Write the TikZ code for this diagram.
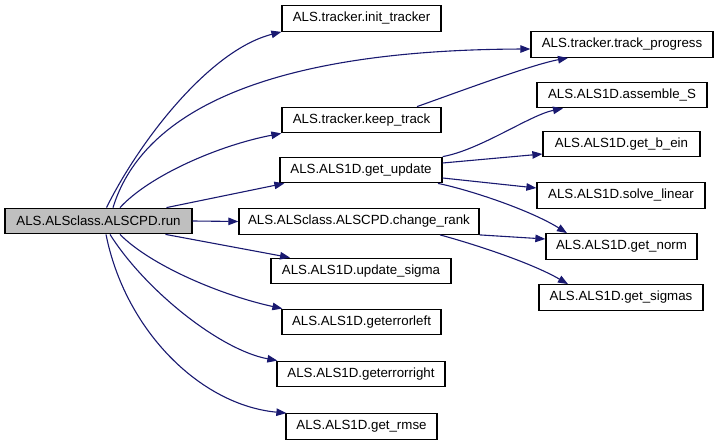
\documentclass[tikz,border=0pt]{standalone}
\usepackage{fontspec}
\setmainfont{Liberation Sans}
\usetikzlibrary{arrows.meta}
\definecolor{edgeblue}{HTML}{191970}
\definecolor{rootfill}{HTML}{BFBFBF}
\begin{document}
\begin{tikzpicture}[x=1pt,y=-1pt,
  fn/.style={draw=black,line width=1.3pt,rectangle,inner sep=0pt,minimum height=25.5pt,
    font=\fontsize{13.3}{16}\selectfont,text=black},
  rootfn/.style={fn,fill=rootfill},
  call/.style={draw=edgeblue,line width=1.1pt,-{Triangle[length=10pt,width=7.5pt,fill=edgeblue]}}]
\useasboundingbox (0,0) rectangle (717,443);
\node[rootfn,minimum width=187pt] (run) at (98.5,221) {ALS.ALSclass.ALSCPD.run};
\node[fn,minimum width=159pt] (init) at (361.5,18.5) {ALS.tracker.init\_tracker};
\node[fn,minimum width=182pt] (track) at (622,44.5) {ALS.tracker.track\_progress};
\node[fn,minimum width=159pt] (keep) at (361.5,120) {ALS.tracker.keep\_track};
\node[fn,minimum width=170pt] (asm) at (622,95) {ALS.ALS1D.assemble\_S};
\node[fn,minimum width=157pt] (bein) at (621.5,144) {ALS.ALS1D.get\_b\_ein};
\node[fn,minimum width=162pt] (upd) at (361,170) {ALS.ALS1D.get\_update};
\node[fn,minimum width=168pt] (solve) at (621,195.5) {ALS.ALS1D.solve\_linear};
\node[fn,minimum width=240pt] (rank) at (359,221.5) {ALS.ALSclass.ALSCPD.change\_rank};
\node[fn,minimum width=151pt] (norm) at (621.5,246.5) {ALS.ALS1D.get\_norm};
\node[fn,minimum width=180pt] (usig) at (361,271) {ALS.ALS1D.update\_sigma};
\node[fn,minimum width=164pt] (sig) at (621,297.5) {ALS.ALS1D.get\_sigmas};
\node[fn,minimum width=159pt] (eleft) at (361.5,322) {ALS.ALS1D.geterrorleft};
\node[fn,minimum width=168pt] (eright) at (361,374) {ALS.ALS1D.geterrorright};
\node[fn,minimum width=151pt] (rmse) at (361.5,426.5) {ALS.ALS1D.get\_rmse};

\draw[call] ([xshift=8pt]run.north) .. controls (140,140) and (210,50) .. (init.south west);
\draw[call] ([xshift=14.5pt]run.north) .. controls (140,120) and (250,50) .. ([yshift=-4.5pt]track.west);
\draw[call] ([xshift=21.5pt]run.north) .. controls (150,175) and (220,145) .. (keep.south west);
\draw[call] ([xshift=68pt]run.north) -- ([xshift=5pt]upd.south west);
\draw[call] (run.east) -- (rank.west);
\draw[call] ([xshift=67pt]run.south) -- ([xshift=-71pt]usig.north);
\draw[call] ([xshift=21.5pt]run.south) .. controls (150,265) and (220,295) .. ([xshift=1pt]eleft.north west);
\draw[call] ([xshift=11.5pt]run.south) .. controls (145,290) and (220,350) .. ([xshift=1pt]eright.north west);
\draw[call] ([xshift=7.5pt]run.south) .. controls (125,330) and (200,405) .. ([xshift=1pt]rmse.north west);
\draw[call] ([xshift=55.5pt]keep.north) .. controls (450,95) and (530,65) .. ([xshift=-54pt]track.south);
\draw[call] (upd.north east) .. controls (480,150) and (530,115) .. ([xshift=-59pt]asm.south);
\draw[call] ([yshift=7pt]upd.east) -- ([yshift=-10pt]bein.west);
\draw[call] ([yshift=-8pt]upd.east) -- ([yshift=7.5pt]solve.west);
\draw[call] ([xshift=77pt]upd.south) .. controls (470,190) and (530,210) .. ([xshift=-54.5pt]norm.north);
\draw[call] (rank.south east) -- ([yshift=7.5pt]norm.west);
\draw[call] ([xshift=81pt]rank.south) .. controls (470,243) and (530,262) .. ([xshift=-53pt]sig.north);
\end{tikzpicture}
\end{document}
